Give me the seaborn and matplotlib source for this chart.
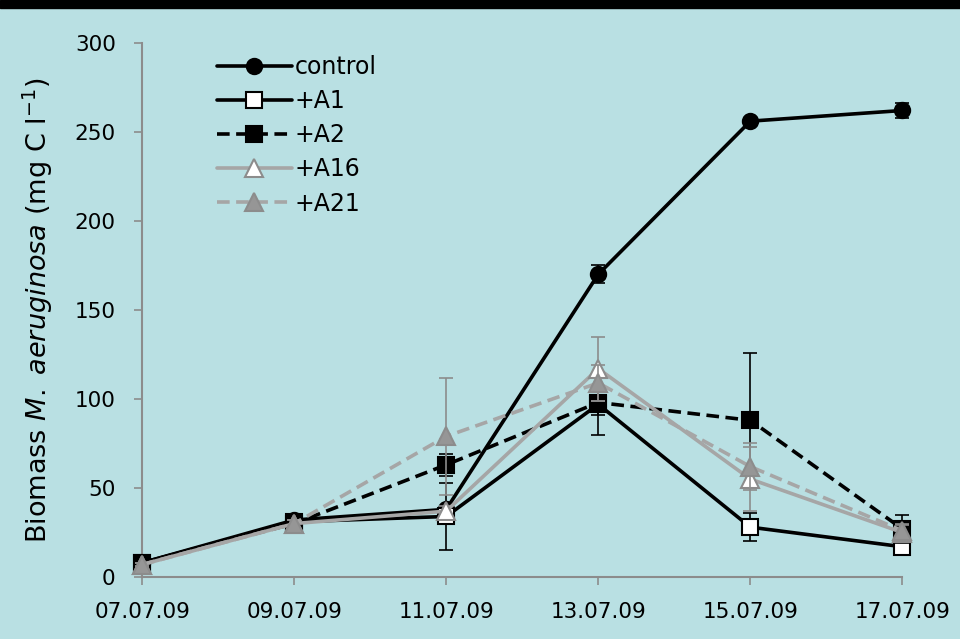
import numpy as np
import pandas as pd
import matplotlib
matplotlib.use('Agg')
import matplotlib.pyplot as plt
import seaborn as sns

# data
dates = ['07.07.09', '09.07.09', '11.07.09', '13.07.09', '15.07.09', '17.07.09']
control = [8, 32, 38, 170, 256, 262]
control_err = [1, 2, 2, 5, 2, 4]
a1 = [8, 31, 34, 97, 28, 17]
a1_err = [1, 3, 19, 17, 8, 2]
a2 = [8, 30, 63, 98, 88, 27]
a2_err = [1, 2, 6, 7, 38, 8]
a16 = [7, 30, 37, 117, 55, 25]
a16_err = [1, 2, 3, 18, 18, 4]
a21 = [7, 30, 79, 109, 62, 26]
a21_err = [1, 2, 33, 10, 13, 4]

bg = '#b9e0e3'
sns.set_style('white')
plt.rcParams['font.family'] = ['DejaVu Sans']
plt.rcParams['text.color'] = 'black'
plt.rcParams['axes.labelcolor'] = 'black'
plt.rcParams['xtick.labelcolor'] = 'black'
plt.rcParams['ytick.labelcolor'] = 'black'

fig = plt.figure(figsize=(9.6, 6.39), dpi=100, facecolor=bg)
ax = fig.add_axes([0.148, 0.097, 0.792, 0.836])
ax.set_facecolor(bg)
# black band at the top of the image
fig.patches.append(plt.Rectangle((0, 1 - 8 / 639), 1, 8 / 639, transform=fig.transFigure,
                                 color='black', zorder=10))

x = np.arange(len(dates))
series = [
    ('control', control, control_err, dict(color='black', marker='o', mfc='black', mec='black', ms=11, ls='-'), 'black'),
    ('+A1', a1, a1_err, dict(color='black', marker='s', mfc='white', mec='black', ms=12, ls='-'), 'black'),
    ('+A2', a2, a2_err, dict(color='black', marker='s', mfc='black', mec='black', ms=12, ls=(0, (3.5, 1.8))), 'black'),
    ('+A16', a16, a16_err, dict(color='#a6a6a6', marker='^', mfc='white', mec='#8c8c8c', ms=13, ls='-'), '#8c8c8c'),
    ('+A21', a21, a21_err, dict(color='#a6a6a6', marker='^', mfc='#969696', mec='#8c8c8c', ms=13, ls=(0, (3.5, 1.8))), '#8c8c8c'),
]

for i, (name, vals, err, st, ecol) in enumerate(series):
    ax.errorbar(x, vals, yerr=err, fmt='none', ecolor=ecol, elinewidth=1.2, capsize=5,
                capthick=1.2, zorder=2 + i, clip_on=False)
    df = pd.DataFrame({'x': x, 'y': vals})
    sns.lineplot(data=df, x='x', y='y', ax=ax, color=st['color'], linestyle=st['ls'],
                 linewidth=2.6, marker=st['marker'], markersize=st['ms'],
                 markerfacecolor=st['mfc'], markeredgecolor=st['mec'], markeredgewidth=1.5,
                 label=name, zorder=3 + i, clip_on=False)

ax.set_xlim(0, 5)
ax.set_ylim(0, 300)
ax.set_xticks(x)
ax.set_xticklabels(dates)
ax.set_yticks(range(0, 301, 50))
ax.set_xlabel('')
ax.set_ylabel(r'Biomass $\it{M.}$ $\it{aeruginosa}$ (mg C l$^{-1}$)', fontsize=19.5, labelpad=14)

for s in ['top', 'right']:
    ax.spines[s].set_visible(False)
for s in ['left', 'bottom']:
    ax.spines[s].set_color('#8c8c8c')
    ax.spines[s].set_linewidth(1.5)
ax.tick_params(axis='y', direction='out', length=6, width=1.2, color='#8c8c8c',
               labelsize=15.5, pad=13, left=True)
ax.tick_params(axis='x', direction='out', length=6, width=1.2, color='#8c8c8c',
               labelsize=15.5, pad=12, bottom=True)

leg = ax.legend(loc='upper left', bbox_to_anchor=(0.07, 1.017), frameon=False, fontsize=17,
                handlelength=3.2, handletextpad=0.1, labelspacing=0.43)

fig.savefig('out.png', dpi=100, facecolor=bg)
